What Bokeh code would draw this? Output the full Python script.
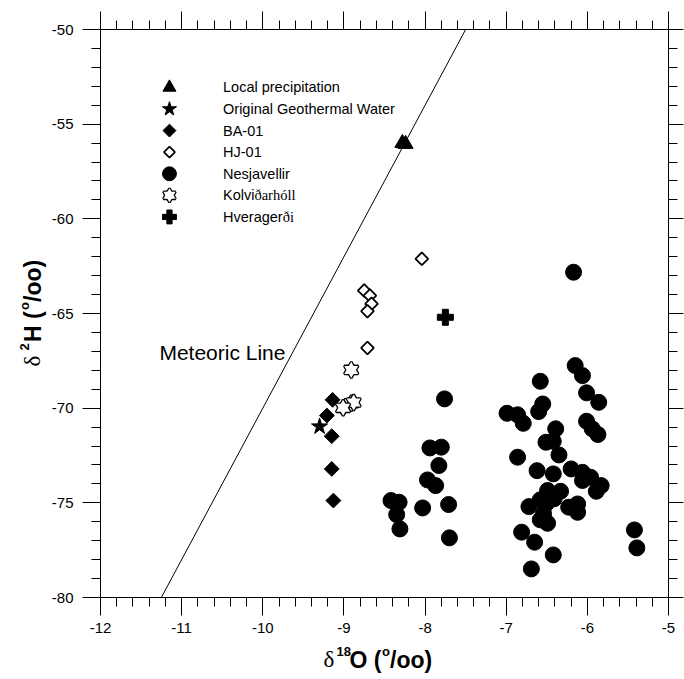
import numpy as np
from bokeh.plotting import figure
from bokeh.layouts import row, column
from bokeh.models import Range1d, LinearAxis, SingleIntervalTicker, CustomJSTickFormatter
from bokeh.core.properties import value
from bokeh.embed import file_html
from bokeh.resources import INLINE

# ---------------- data: delta 18O (x) and delta 2H (y), per mil ----------------
precip_d18o = [-8.28, -8.24]
precip_d2h = [-56.0, -56.05]

geo_d18o = [-9.30]
geo_d2h = [-70.97]

ba01_d18o = [-9.14, -9.21, -9.15, -9.15, -9.13]
ba01_d2h = [-69.56, -70.39, -71.48, -73.21, -74.88]

hj01_d18o = [-8.75, -8.68, -8.66, -8.71, -8.71, -8.04]
hj01_d2h = [-63.79, -64.05, -64.49, -64.88, -66.82, -62.11]

kolv_d18o = [-8.91, -8.91, -8.88, -9.01]
kolv_d2h = [-67.98, -69.74, -69.70, -69.98]

hver_d18o = [-7.75]
hver_d2h = [-65.20]

nesja_d18o = [-6.17, -7.76, -6.58, -6.15, -6.06, -6.01, -5.86, -6.55, -6.60, -6.99,
              -6.86, -6.79, -6.01, -5.94, -5.87, -6.39, -6.51, -6.42, -6.35, -6.86,
              -7.94, -7.80, -7.83, -6.62, -6.42, -6.20, -6.06, -5.96, -5.83, -5.89,
              -6.06, -7.97, -7.87, -6.33, -6.49, -6.58, -6.51, -6.72, -6.23, -6.12,
              -6.12, -8.42, -8.32, -8.35, -8.31, -8.03, -7.71, -7.70, -6.58, -6.49,
              -6.81, -6.65, -6.42, -6.69, -5.42, -5.39, -6.41, -6.54]
nesja_d2h = [-62.82, -69.51, -68.58, -67.75, -68.28, -69.19, -69.69, -69.78, -70.18, -70.27,
             -70.35, -70.80, -70.69, -71.09, -71.39, -71.09, -71.80, -71.75, -72.47, -72.59,
             -72.10, -72.06, -73.03, -73.30, -73.47, -73.21, -73.39, -73.65, -74.09, -74.39,
             -73.82, -73.79, -74.09, -74.39, -74.35, -74.84, -75.06, -75.20, -75.23, -75.06,
             -75.50, -74.88, -74.97, -75.62, -76.38, -75.27, -75.09, -76.85, -75.90, -76.08,
             -76.55, -77.08, -77.75, -78.49, -76.43, -77.38, -74.79, -75.58]

# global meteoric water line: d2H = 8 * d18O + 10
GMWL_SLOPE = 8.0
GMWL_INTERCEPT = 10.0

legend_labels = ["Local precipitation", "Original Geothermal Water", "BA-01", "HJ-01",
                 "Nesjavellir", "Kolviðarhóll", "Hveragerði"]

X_MIN, X_MAX = -12, -5
Y_MIN, Y_MAX = -80, -50

SANS = "Liberation Sans"
SERIF = "Liberation Serif"

# page layout: a narrow strip for the vertical title, the main plot, and a strip
# under it for the horizontal title
TOTAL_W, TOTAL_H = 684, 679
LEFT_STRIP_W = 48
BOTTOM_STRIP_H = 34
MAIN_W = TOTAL_W - LEFT_STRIP_W
MAIN_H = TOTAL_H - BOTTOM_STRIP_H
FRAME_LEFT, FRAME_TOP, FRAME_BOTTOM = 99, 29, 597

p = figure(width=MAIN_W, height=MAIN_H, output_backend="svg", toolbar_location=None,
           x_range=Range1d(X_MIN, X_MAX), y_range=Range1d(Y_MIN, Y_MAX),
           x_axis_location=None, y_axis_location=None,
           min_border_left=FRAME_LEFT - LEFT_STRIP_W, min_border_right=16,
           min_border_top=FRAME_TOP, min_border_bottom=MAIN_H - FRAME_BOTTOM)
p.xgrid.visible = False
p.ygrid.visible = False
p.outline_line_color = "black"
p.outline_line_width = 1
p.background_fill_color = "white"
p.border_fill_color = "white"

blank = CustomJSTickFormatter(code="return ''")
plain = CustomJSTickFormatter(code="return String(tick)")


def make_axis(kind, side):
    if kind == "x":
        ticker = SingleIntervalTicker(interval=1, num_minor_ticks=5)
    else:
        ticker = SingleIntervalTicker(interval=5, num_minor_ticks=5)
    ax = LinearAxis(ticker=ticker)
    ax.axis_line_color = "black"
    ax.major_tick_line_color = "black"
    ax.minor_tick_line_color = "black"
    ax.major_tick_in = 0
    ax.minor_tick_in = 0
    ax.major_tick_out = 18
    ax.minor_tick_out = 9
    ax.major_label_text_font = SANS
    ax.major_label_text_font_size = "15px"
    ax.major_label_text_color = "black"
    if side in ("above", "right"):
        ax.formatter = blank
        ax.major_label_text_font_size = "0px"
        ax.major_label_standoff = 0
        if side == "right":
            ax.major_tick_out = 15
    else:
        ax.formatter = plain
        ax.major_label_standoff = 7 if side == "below" else 9
    p.add_layout(ax, side)
    return ax


make_axis("x", "below")
make_axis("x", "above")
make_axis("y", "left")
make_axis("y", "right")

# meteoric water line across the full d2H range
line_y = [Y_MIN, Y_MAX]
line_x = [(yy - GMWL_INTERCEPT) / GMWL_SLOPE for yy in line_y]
p.line(line_x, line_y, line_color="black", line_width=1)
p.text(x=[-11.274], y=[-67.06], text=["Meteoric Line"], text_font=value(SANS),
       text_font_size="21px", text_baseline="middle", text_align="left", text_color="black")

DIAMOND = np.pi / 4


def draw_series(xs, ys, kind, scale=1.0):
    if kind == "precip":
        p.scatter(xs, ys, marker="triangle", size=15 * scale, fill_color="black", line_color="black")
    elif kind == "geo":
        p.scatter(xs, ys, marker="star", size=17 * scale, fill_color="black", line_color="black")
    elif kind == "ba01":
        p.scatter(xs, ys, marker="square", angle=DIAMOND, size=10.5 * scale,
                  fill_color="black", line_color="black")
    elif kind == "hj01":
        for xx, yy in zip(xs, ys):
            p.scatter([xx], [yy], marker="square", angle=DIAMOND, size=9 * scale,
                      fill_color="white", line_color="black", line_width=1.8)
    elif kind == "nesja":
        p.scatter(xs, ys, marker="circle", size=16 * scale, fill_color="black", line_color="black")
    elif kind == "kolv":
        for xx, yy in zip(xs, ys):
            for m in ("triangle", "inverted_triangle"):
                p.scatter([xx], [yy], marker=m, size=14 * scale, fill_color=None,
                          line_color="black", line_width=2.6)
            for m in ("triangle", "inverted_triangle"):
                p.scatter([xx], [yy], marker=m, size=14 * scale, fill_color="white",
                          line_color=None)
    elif kind == "hver":
        p.scatter(xs, ys, marker="plus", size=16 * scale, fill_color="black", line_color="black")


draw_series(nesja_d18o, nesja_d2h, "nesja")
draw_series(ba01_d18o, ba01_d2h, "ba01")
draw_series(hj01_d18o, hj01_d2h, "hj01")
draw_series(kolv_d18o, kolv_d2h, "kolv")
draw_series(geo_d18o, geo_d2h, "geo")
draw_series(precip_d18o, precip_d2h, "precip")
draw_series(hver_d18o, hver_d2h, "hver")

# ---------------- legend block ----------------
legend_kinds = ["precip", "geo", "ba01", "hj01", "nesja", "kolv", "hver"]
LEG_MARK_X = -11.15
LEG_TEXT_X = -10.49
LEG_TOP = -53.06
LEG_STEP = 1.14
LEG_FONT = "14.5px"

for i, (kind, lab) in enumerate(zip(legend_kinds, legend_labels)):
    yy = LEG_TOP - i * LEG_STEP
    draw_series([LEG_MARK_X], [yy], kind, scale=0.87)
    if lab == "Kolviðarhóll":
        parts = [("Kolvi", SANS, 0), ("ðarhóll", SERIF, 31.4)]
    elif lab == "Hveragerði":
        parts = [("Hverager", SANS, 0), ("ði", SERIF, 59.6)]
    else:
        parts = [(lab, SANS, 0)]
    for txt, font, dx in parts:
        p.text(x=[LEG_TEXT_X], y=[yy], text=[txt], x_offset=dx, text_font=value(font),
               text_font_size=LEG_FONT, text_baseline="middle", text_align="left",
               text_color="black")


# ---------------- axis titles, drawn in their own strips ----------------
def strip(w, h, xr):
    f = figure(width=w, height=h, output_backend="svg", toolbar_location=None,
               x_range=xr, y_range=Range1d(0, h),
               x_axis_location=None, y_axis_location=None,
               min_border=0, min_border_left=0, min_border_right=0,
               min_border_top=0, min_border_bottom=0)
    f.xgrid.visible = False
    f.ygrid.visible = False
    f.outline_line_color = None
    f.background_fill_color = "white"
    f.border_fill_color = "white"
    return f


# each piece: text, font, size, style, advance along the line (px), rise (px)
TITLE_TAIL = [
    ("O (", SANS, "23px", "bold", 26, 0),
    ("o", SANS, "13px", "bold", 58.5, 8),
    ("/oo)", SANS, "23px", "bold", 66.5, 0),
]
x_title = [("δ", SERIF, "23px", "normal", 0, 0),
           ("18", SANS, "13px", "bold", 13, 8)] + TITLE_TAIL
y_title = [("δ", SERIF, "23px", "normal", 0, 0),
           ("2", SANS, "13px", "bold", 16, 8),
           ("H (", SANS, "23px", "bold", 24.5, 0),
           ("o", SANS, "13px", "bold", 56.5, 8),
           ("/oo)", SANS, "23px", "bold", 64.5, 0)]

# horizontal title: the strip shares the plot's x scale, so pieces are placed
# from the frame's left edge with pixel offsets
bottom_strip = strip(MAIN_W, BOTTOM_STRIP_H, Range1d(X_MIN, X_MAX))
X_TITLE_LEFT = 322          # page px where the title starts
X_TITLE_BASE = 659          # page px of its baseline
for txt, font, size, style, along, rise in x_title:
    bottom_strip.text(x=[X_MIN], y=[TOTAL_H - X_TITLE_BASE + rise], text=[txt],
                      x_offset=X_TITLE_LEFT - FRAME_LEFT + along,
                      text_font=value(font), text_font_size=size, text_font_style=style,
                      text_color="black", text_align="left", text_baseline="alphabetic")

# vertical title, reading upwards
left_strip = strip(LEFT_STRIP_W, TOTAL_H, Range1d(0, LEFT_STRIP_W))
Y_TITLE_BASE_X = 32         # page px of the rotated baseline
Y_TITLE_START = 366         # page px where the title starts (bottom end)
for txt, font, size, style, along, rise in y_title:
    left_strip.text(x=[Y_TITLE_BASE_X - rise], y=[TOTAL_H - Y_TITLE_START + along],
                    text=[txt], angle=np.pi / 2, text_font=value(font),
                    text_font_size=size, text_font_style=style, text_color="black",
                    text_align="left", text_baseline="alphabetic")

layout = row(left_strip, column(p, bottom_strip, spacing=0), spacing=0)
open("out.html", "w").write(file_html(layout, INLINE))
